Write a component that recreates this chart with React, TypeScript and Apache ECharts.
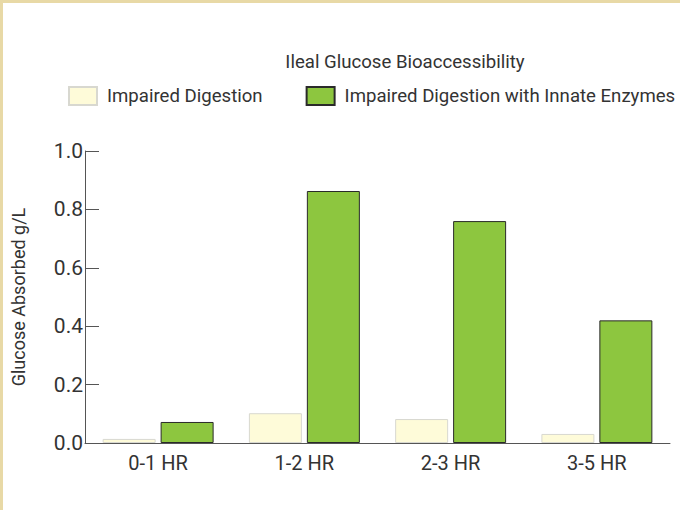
import React, { useEffect, useRef } from "react";
import * as echarts from "echarts";

const categories = ["0-1 HR", "1-2 HR", "2-3 HR", "3-5 HR"];
const impaired = [0.014, 0.102, 0.082, 0.031];
const withEnzymes = [0.072, 0.863, 0.76, 0.42];
const seriesNames = ["Impaired Digestion", "Impaired Digestion with Innate Enzymes"];
const titleText = "Ileal Glucose Bioaccessibility";
const yAxisName = "Glucose Absorbed g/L";

const FONT = "Roboto, 'Liberation Sans', sans-serif";

export default function App() {
  const ref = useRef<HTMLDivElement>(null);
  useEffect(() => {
    if (!ref.current) return;
    const chart = echarts.init(ref.current, null, { renderer: "svg" });
    chart.setOption({
      animation: false,
      backgroundColor: "#ffffff",
      textStyle: { fontFamily: FONT },
      title: {
        text: titleText,
        left: 400,
        textAlign: "center",
        top: 47,
        textStyle: { fontFamily: FONT, fontSize: 18.6, fontWeight: "normal", color: "#333" },
      },
      legend: {
        left: 63,
        top: 81,
        width: 660,
        orient: "horizontal",
        itemWidth: 28,
        itemHeight: 18,
        itemGap: 43,
        icon: "rect",
        textStyle: { fontFamily: FONT, fontSize: 18.6, color: "#333", padding: [0, 0, 0, 5] },
        data: seriesNames,
      },
      graphic: [
        { type: "rect", shape: { x: 0, y: 0, width: 680, height: 3 }, style: { fill: "#e8d9a6" } },
        { type: "rect", shape: { x: 0, y: 0, width: 3, height: 510 }, style: { fill: "#e8d9a6" } },
      ],
      grid: { left: 85, top: 151, width: 585, height: 292, containLabel: false, outerBoundsMode: "none" },
      xAxis: {
        type: "category",
        data: categories,
        axisLine: { lineStyle: { color: "#555", width: 1 } },
        axisTick: { inside: true, length: 8, lineStyle: { color: "#555" } },
        axisLabel: { fontFamily: FONT, fontSize: 20, color: "#333", margin: 10 },
      },
      yAxis: {
        type: "value",
        min: 0,
        max: 1,
        interval: 0.2,
        name: yAxisName,
        nameLocation: "middle",
        nameGap: 58,
        nameTextStyle: { fontFamily: FONT, fontSize: 18, color: "#333" },
        axisLine: { show: true, lineStyle: { color: "#555", width: 1 } },
        axisTick: { show: true, inside: true, length: 14, lineStyle: { color: "#555" } },
        splitLine: { show: false },
        axisLabel: {
          fontFamily: FONT,
          fontSize: 21,
          color: "#333",
          margin: 2,
          formatter: (v: number) => v.toFixed(1),
        },
      },
      series: [
        {
          name: seriesNames[0],
          type: "bar",
          data: impaired,
          barWidth: 53,
          barGap: "9.4%",
          itemStyle: { color: "#fefbd9", borderColor: "#d8d8d0", borderWidth: 1 },
        },
        {
          name: seriesNames[1],
          type: "bar",
          data: withEnzymes,
          barWidth: 53,
          itemStyle: { color: "#8dc63f", borderColor: "#2a2a2a", borderWidth: 1 },
        },
      ],
    });
    return () => chart.dispose();
  }, []);
  return (
    <div style={{ position: "absolute", left: 0, top: 0, width: 680, height: 510 }}>
      <div ref={ref} style={{ width: 680, height: 510 }} />
    </div>
  );
}
